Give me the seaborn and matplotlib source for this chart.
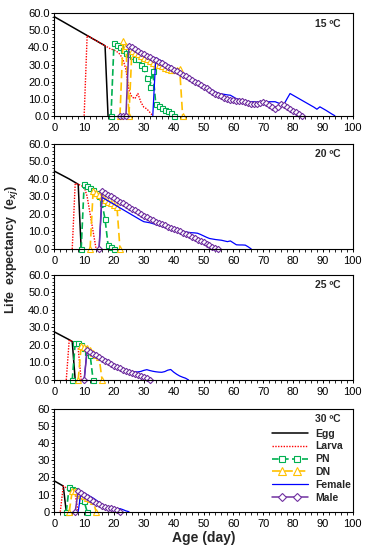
import numpy as np
import pandas as pd
import matplotlib
matplotlib.use("Agg")
import matplotlib.pyplot as plt
import seaborn as sns
from matplotlib.lines import Line2D
from matplotlib.legend_handler import HandlerLine2D
from matplotlib.ticker import MultipleLocator, FormatStrFormatter

# ------------------------------------------------------------
# Data: age-stage life expectancy e_xj, one value per day,
# each series starts at its own first age (day)
# ------------------------------------------------------------
STAGES = ["Egg", "Larva", "PN", "DN", "Female", "Male"]
TEMPS = ["15 ºC", "20 ºC", "25 ºC", "30 ºC"]

# 15 C
EGG_15_START, EGG_15 = 0, [58, 57, 56, 55, 54, 53, 52, 51, 50, 49, 48, 47, 46, 45, 44, 43, 42, 41, 0]
LARVA_15_START, LARVA_15 = 10, [0, 47, 46, 45, 44, 43, 42, 41, 40, 39, 38.5, 37.5, 36, 33, 27, 15, 11, 10,
                                13, 8, 5, 4, 2, 0]
PN_15_START, PN_15 = 19, [0, 42.5, 41.5, 40, 38.5, 37, 36, 35, 33.5, 33, 30, 28, 22, 17, 26, 7, 5.5, 4.5,
                          3.5, 2.5, 1.5, 0]
DN_15_START, DN_15 = 22, [0, 43.5, 41, 0, 38, 37, 36, 35, 34, 33, 32, 31, 30, 29.5, 29, 28, 27.5, 27, 27,
                          27, 27.5, 0]
FEMALE_15_START, FEMALE_15 = 33, [0, 34, 33, 32, 31, 30, 29, 28, 27, 26, 25, 24, 23, 22, 21, 20, 19, 18, 17,
                                  16, 15, 14, 13, 12.8, 12.5, 12.2, 12, 11, 10, 9.6, 9, 8.5, 8.3, 8.2, 8.2,
                                  8, 8, 8, 8, 8.2, 8.2, 8.2, 7.5, 7, 6.8, 10, 13, 12, 11, 10, 9, 8, 7, 6, 5,
                                  3.8, 5.2, 4.2, 3.2, 2.1, 1, 0]
MALE_15_START, MALE_15 = 22, [0, 0, 0, 41, 40, 39, 38, 37, 36, 35.1, 34.2, 33.3, 32.4, 31.5, 30.6, 29.7,
                              28.8, 27.9, 27, 26, 25, 24, 23, 22, 21, 20, 19, 18, 17, 16, 15, 14, 13, 12.2,
                              11.4, 10.6, 10, 9.5, 9, 8.6, 8.4, 8.8, 8.2, 7.6, 7, 6.8, 7, 7.4, 8, 7.4, 6.5,
                              5, 4.2, 5, 6.8, 6, 5, 4, 3, 2, 1, 0]

# 20 C
EGG_20_START, EGG_20 = 0, [44.5, 43.6, 42.7, 41.8, 40.9, 40, 39, 38, 37, 0]
LARVA_20_START, LARVA_20 = 6, [0, 37.5, 37, 36.2, 35.5, 30, 20, 10, 0]
PN_20_START, PN_20 = 9, [0, 37, 36, 35, 33.5, 32, 30.5, 26, 17, 2.5, 1.2, 0]
DN_20_START, DN_20 = 12, [0, 33, 32, 31, 29.5, 28, 27, 26, 25, 24, 0]
FEMALE_20_START, FEMALE_20 = 15, [0, 29.5, 28.5, 27.5, 26.5, 25.5, 24.5, 23.5, 22.5, 21.5, 20.5, 19.5, 18.5,
                                  17.5, 16.5, 15.6, 15.3, 15, 14.5, 14, 13.5, 13, 12.3, 11.6, 11, 10.5, 10.2,
                                  9.9, 9.8, 9.7, 9.5, 9.3, 9.2, 9, 8.3, 7.5, 6.7, 6, 5.7, 5.4, 5.2, 5, 4.6,
                                  4.2, 4.6, 3.5, 2.4, 2.3, 2.3, 2.2, 1.2, 0]
MALE_20_START, MALE_20 = 15, [0, 33, 32, 31, 30, 29, 28, 27, 26, 25, 24, 23, 22, 21, 20, 19, 18, 17, 16.3,
                              15.6, 14.9, 14.2, 13.5, 12.8, 12.1, 11.4, 10.7, 10, 9.2, 8.5, 7.8, 7, 6.2,
                              5.4, 4.6, 3.8, 3, 2.2, 1.4, 0.6, 0]

# 25 C
EGG_25_START, EGG_25 = 0, [27.5, 26.6, 25.7, 24.8, 23.9, 23, 22, 0]
LARVA_25_START, LARVA_25 = 4, [0, 23, 22, 20.5, 18, 0]
PN_25_START, PN_25 = 6, [0, 21, 21, 20, 18, 16, 14.3, 0]
DN_25_START, DN_25 = 8, [0, 19.5, 19, 18, 17, 15.5, 14, 13, 0]
FEMALE_25_START, FEMALE_25 = 10, [0, 18, 17, 16, 15, 14, 13, 12, 11, 10, 9, 8, 7, 6, 5.2, 4.8, 4.8, 4.7,
                                  4.6, 4.9, 5.5, 5.9, 5.4, 5, 4.7, 4.5, 4.4, 4.8, 5.6, 6, 4.5, 3.3, 2.3,
                                  1.6, 1, 0]
MALE_25_START, MALE_25 = 10, [0, 17, 16, 15, 14, 13, 12, 11, 10, 9, 8.2, 7.4, 6.6, 5.8, 5, 4.4, 3.8, 3.2,
                              2.7, 2.1, 1.5, 0.9, 0]

# 30 C
EGG_30_START, EGG_30 = 0, [18, 17, 16, 15, 0]
LARVA_30_START, LARVA_30 = 2, [0, 15, 14, 12, 10.5, 10, 0]
PN_30_START, PN_30 = 4, [0, 14.5, 13.5, 12.5, 11, 7, 6, 0]
DN_30_START, DN_30 = 5, [0, 12, 12, 11, 10, 9, 8, 7.5, 6.5, 0]
FEMALE_30_START, FEMALE_30 = 8, [0, 12, 11, 10, 9, 8, 6.8, 5.5, 4.2, 3, 2.3, 2, 1.8, 1.6, 1.8, 1.2, 0.5, 0]
MALE_30_START, MALE_30 = 7, [0, 12, 11, 10, 8.7, 7.5, 6.3, 5.2, 4.3, 3.5, 2.8, 2.3, 2, 1.7, 1.2, 0]

PANELS = [
    [(EGG_15_START, EGG_15), (LARVA_15_START, LARVA_15), (PN_15_START, PN_15),
     (DN_15_START, DN_15), (FEMALE_15_START, FEMALE_15), (MALE_15_START, MALE_15)],
    [(EGG_20_START, EGG_20), (LARVA_20_START, LARVA_20), (PN_20_START, PN_20),
     (DN_20_START, DN_20), (FEMALE_20_START, FEMALE_20), (MALE_20_START, MALE_20)],
    [(EGG_25_START, EGG_25), (LARVA_25_START, LARVA_25), (PN_25_START, PN_25),
     (DN_25_START, DN_25), (FEMALE_25_START, FEMALE_25), (MALE_25_START, MALE_25)],
    [(EGG_30_START, EGG_30), (LARVA_30_START, LARVA_30), (PN_30_START, PN_30),
     (DN_30_START, DN_30), (FEMALE_30_START, FEMALE_30), (MALE_30_START, MALE_30)],
]

# ------------------------------------------------------------
# Styles
# ------------------------------------------------------------
STYLE = {
    "Egg": dict(color="black", linestyle="-", linewidth=1.1, marker=None),
    "Larva": dict(color="#FF0000", linestyle=(0, (1, 1)), linewidth=1.0, marker=None),
    "PN": dict(color="#00B050", linestyle=(0, (4, 2)), linewidth=1.2, marker="s", markersize=3.6,
               markerfacecolor="white", markeredgecolor="#00B050", markeredgewidth=0.8),
    "DN": dict(color="#FFC000", linestyle=(0, (5, 2.5)), linewidth=1.2, marker="^", markersize=4.3,
               markerfacecolor="white", markeredgecolor="#FFC000", markeredgewidth=0.8),
    "Female": dict(color="#0000FF", linestyle="-", linewidth=0.9, marker=None),
    "Male": dict(color="#7030A0", linestyle="-", linewidth=1.1, marker="D", markersize=3.2,
                 markerfacecolor="white", markeredgecolor="#7030A0", markeredgewidth=0.8),
}


class KeyHandler(HandlerLine2D):
    # full-width key line, markers only at two inner points
    def create_artists(self, *args, **kwargs):
        artists = super().create_artists(*args, **kwargs)
        for a in artists:
            a.set_markevery([2, 5])
        return artists


sns.set_theme(style="ticks")
plt.rcParams["font.family"] = ["Liberation Sans", "DejaVu Sans"]
plt.rcParams["mathtext.fontset"] = "custom"
plt.rcParams["mathtext.rm"] = "Liberation Sans:bold"
plt.rcParams["mathtext.bf"] = "Liberation Sans:bold"
plt.rcParams["mathtext.it"] = "Liberation Sans:italic:bold"

fig = plt.figure(figsize=(3.68, 5.5), dpi=100)

LEFT, WIDTH = 0.1476, 0.8109
BOXES = [(0.7896, 0.1862), (0.5473, 0.1909), (0.3091, 0.1909), (0.0696, 0.1867)]

for i, (series, temp) in enumerate(zip(PANELS, TEMPS)):
    bottom, height = BOXES[i]
    ax = fig.add_axes([LEFT, bottom, WIDTH, height])
    for stage, (start, values) in zip(STAGES, series):
        frame = pd.DataFrame({"Age": np.arange(start, start + len(values)), "ex": values})
        sns.lineplot(data=frame, x="Age", y="ex", ax=ax, legend=False,
                     errorbar=None, clip_on=False, **STYLE[stage])

    ax.set_xlim(0, 100)
    ax.set_ylim(0, 60)
    ax.xaxis.set_major_locator(MultipleLocator(10))
    ax.xaxis.set_minor_locator(MultipleLocator(2))
    ax.yaxis.set_major_locator(MultipleLocator(10))
    ax.yaxis.set_minor_locator(MultipleLocator(2))
    ax.yaxis.set_major_formatter(FormatStrFormatter("%d" if i == 3 else "%.1f"))
    ax.tick_params(axis="both", which="both", direction="out", colors="black", labelsize=8)
    ax.tick_params(axis="x", which="major", length=2.2, width=0.7, pad=3.2)
    ax.tick_params(axis="x", which="minor", length=2.0, width=0.6)
    ax.tick_params(axis="y", which="major", length=2.2, width=0.7, pad=1.2)
    ax.tick_params(axis="y", which="minor", length=1.6, width=0.6)
    for sp in ax.spines.values():
        sp.set_color("black")
        sp.set_linewidth(0.8)
    ax.set_xlabel("")
    ax.set_ylabel("")
    ax.text(0.915, 0.9, temp, transform=ax.transAxes, ha="center", va="center",
            fontsize=7.5, fontweight="bold")

    if i == 3:
        handles = [Line2D([], [], **STYLE[s]) for s in STAGES]
        ax.legend(handles, STAGES, loc="upper left", bbox_to_anchor=(0.73, 0.81),
                  frameon=False, borderpad=0, borderaxespad=0, labelspacing=0.27,
                  handlelength=3.4, handletextpad=0.7, markerscale=1.25,
                  prop={"weight": "bold", "size": 7.5},
                  handler_map={Line2D: KeyHandler(numpoints=8, marker_pad=0)})
        ax.set_xlabel("Age (day)", fontsize=10, fontweight="bold", labelpad=1)

fig.text(0.031, 0.547, r"Life  expectancy  (e$_{\mathit{xj}}$)", rotation=90,
         ha="center", va="center", fontsize=9, fontweight="bold")

fig.savefig("out.png", dpi=100)
